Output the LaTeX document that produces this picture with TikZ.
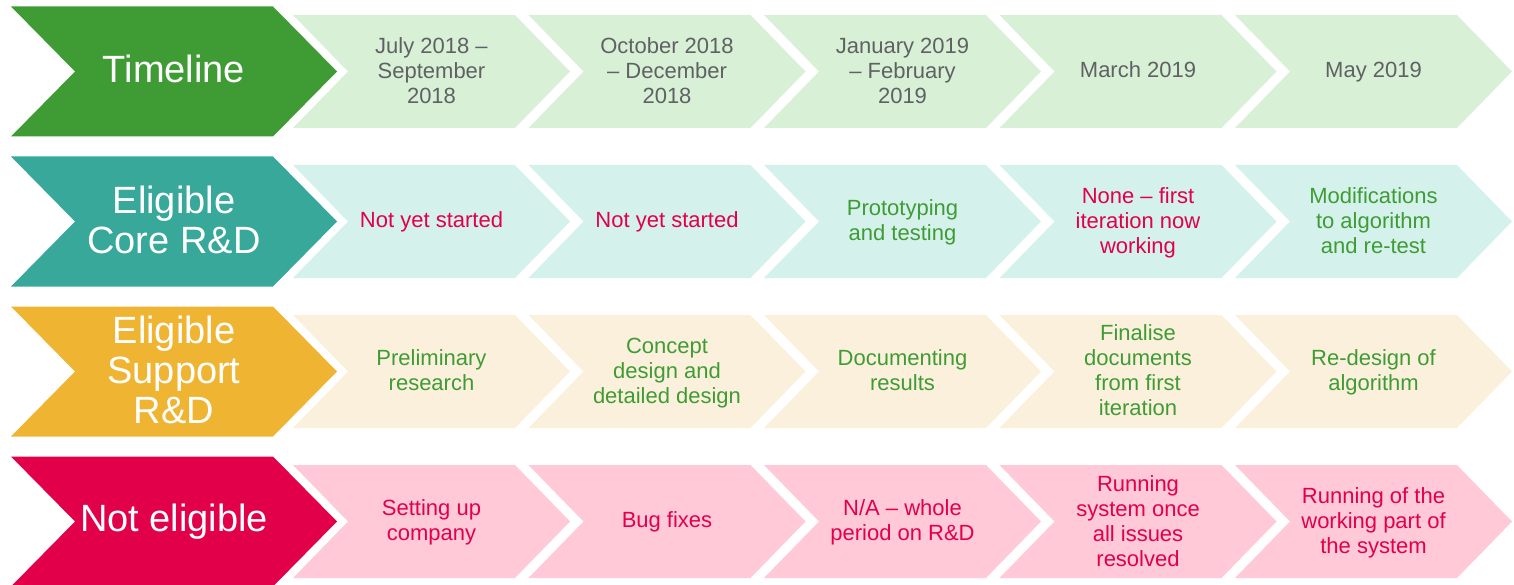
\documentclass[tikz,border=0pt]{standalone}
\usepackage{fontspec}
\setmainfont{Liberation Sans}

% row colours: strong header chevron and pale period chevrons
\definecolor{tlDark}{HTML}{3F9C35}
\definecolor{tlLight}{HTML}{D7F0D6}
\definecolor{coreDark}{HTML}{37A899}
\definecolor{coreLight}{HTML}{D4F1EC}
\definecolor{suppDark}{HTML}{F0B433}
\definecolor{suppLight}{HTML}{FBF0DB}
\definecolor{notDark}{HTML}{E2004A}
\definecolor{notLight}{HTML}{FFC9D8}
% text colours
\definecolor{dateGray}{HTML}{606164}
\definecolor{okGreen}{HTML}{3F9C35}
\definecolor{noRed}{HTML}{E2004A}

% fixed line height so one- and many-line labels centre alike
\newcommand\cellstrut{\vrule width 0pt height 0.76em depth 0.24em}

\begin{document}
\begin{tikzpicture}[x=1pt,y=-1pt,
  labelbase/.style={align=center, inner sep=0pt,
    execute at begin node=\cellstrut, execute at end node=\cellstrut},
  header/.style={labelbase, text=white,
    font=\fontsize{38}{40}\selectfont},
  cell/.style={labelbase, font=\fontsize{22}{25}\selectfont},
  datecell/.style={cell, text=dateGray},
  okcell/.style={cell, text=okGreen},
  nocell/.style={cell, text=noRed}]
\useasboundingbox (0,0) rectangle (1514,585);

% chevron rows
\foreach \r/\dk/\lt in {0/tlDark/tlLight,1/coreDark/coreLight,2/suppDark/suppLight,3/notDark/notLight}{
  \pgfmathsetmacro\yc{71.5+150*\r}
  \fill[\dk] (11,\yc-65) -- (273,\yc-65) -- (337,\yc) -- (273,\yc+65)
    -- (11,\yc+65) -- (75,\yc) -- cycle;
  \foreach \i in {0,...,4}{
    \pgfmathsetmacro\xl{293+235.5*\i}
    \fill[\lt] (\xl,\yc-56.5) -- ++(222,0) -- ++(55,56.5) -- ++(-55,56.5)
      -- ++(-222,0) -- ++(55,-56.5) -- cycle;
  }
}

% row headers
\node[header] (timeline) at (174,72.5) {Timeline};
\node[header] (core) at (174,224) {Eligible\\Core R\&D};
\node[header] (support) at (174,374) {Eligible\\Support\\R\&D};
\node[header] (noteligible) at (174,522) {Not eligible};

% timeline periods
\node[datecell] (d1) at (431.5,73.5) {July 2018 –\\September\\2018};
\node[datecell] (d2) at (667,73.5) {October 2018\\– December\\2018};
\node[datecell] (d3) at (902.5,73.5) {January 2019\\– February\\2019};
\node[datecell] (d4) at (1138,71.5) {March 2019};
\node[datecell] (d5) at (1373.5,71.5) {May 2019};

% core R&D
\node[nocell] (c1) at (431.5,221.5) {Not yet started};
\node[nocell] (c2) at (667,221.5) {Not yet started};
\node[okcell] (c3) at (902.5,222.5) {Prototyping\\and testing};
\node[nocell] (c4) at (1138,223) {None – first\\iteration now\\working};
\node[okcell] (c5) at (1373.5,223) {Modifications\\to algorithm\\and re-test};

% support R&D
\node[okcell] (s1) at (431.5,372.5) {Preliminary\\research};
\node[okcell] (s2) at (667,373) {Concept\\design and\\detailed design};
\node[okcell] (s3) at (902.5,372.5) {Documenting\\results};
\node[okcell] (s4) at (1138,373) {Finalise\\documents\\from first\\iteration};
\node[okcell] (s5) at (1373.5,372.5) {Re-design of\\algorithm};

% not eligible
\node[nocell] (n1) at (431.5,522.5) {Setting up\\company};
\node[nocell] (n2) at (667,521.5) {Bug fixes};
\node[nocell] (n3) at (902.5,522.5) {N/A – whole\\period on R\&D};
\node[nocell] (n4) at (1138,523.5) {Running\\system once\\all issues\\resolved};
\node[nocell] (n5) at (1373.5,523) {Running of the\\working part of\\the system};
\end{tikzpicture}
\end{document}
